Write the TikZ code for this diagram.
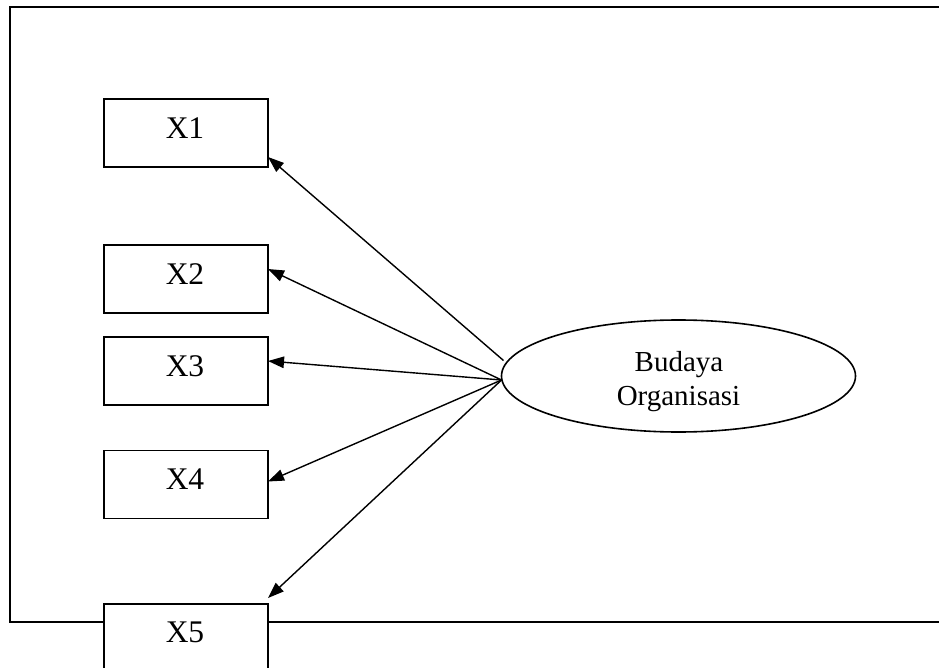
\documentclass[tikz,border=0pt]{standalone}
\usepackage{fontspec}
\setmainfont{Liberation Serif}
\usetikzlibrary{arrows.meta,shapes.geometric}
\begin{document}
\begin{tikzpicture}[x=1pt,y=-1pt,
  frame/.style={line width=1.8pt},
  itembox/.style={draw,line width=1.8pt,minimum width=164pt,minimum height=68pt,inner sep=0pt,outer sep=0pt},
  itemlbl/.style={anchor=base,inner sep=0pt,font=\fontsize{31.5}{37}\selectfont},
  latent/.style={draw,ellipse,line width=1.6pt,minimum width=354pt,minimum height=112pt,inner sep=0pt,outer sep=0pt},
  latlbl/.style={anchor=base,inner sep=0pt,font=\fontsize{29}{33}\selectfont},
  link/.style={line width=1.4pt,-{Triangle[length=16pt,width=11.5pt]}}]
\useasboundingbox (0,0) rectangle (939,668);
% outer frame (right side runs past the page edge)
\draw[frame] (10,7) rectangle (946,622);
% indicator boxes
\node[itembox,fill=white] (x1) at (186,133) {};
\node[itembox,fill=white] (x2) at (186,279) {};
\node[itembox,fill=white] (x3) at (186,371) {};
\node[itembox,fill=white] (x4) at (186,484.5) {};
\node[itembox,fill=white] (x5) at (186,638) {};
\node[itemlbl] (t1) at (185,138.5) {X1};
\node[itemlbl] (t2) at (185,284) {X2};
\node[itemlbl] (t3) at (185,376) {X3};
\node[itemlbl] (t4) at (185,489) {X4};
\node[itemlbl] (t5) at (185,642.5) {X5};
% latent construct
\node[latent] (ell) at (678.5,376) {};
\node[latlbl] (la) at (679,371.7) {Budaya};
\node[latlbl] (lb) at (678.5,405) {Organisasi};
% loading arrows
\coordinate (hub) at ([yshift=-4pt]ell.west);
\coordinate (hubtop) at ([xshift=2pt,yshift=15.5pt]ell.west);
\draw[link] (hubtop) -- ([yshift=10pt]x1.south east);
\draw[link] (hub) -- ([yshift=-24pt]x2.north east);
\draw[link] (hub) -- ([yshift=-24pt]x3.north east);
\draw[link] (hub) -- ([yshift=-31pt]x4.north east);
\draw[link] (hub) -- ([yshift=6pt]x5.north east);
\end{tikzpicture}
\end{document}
